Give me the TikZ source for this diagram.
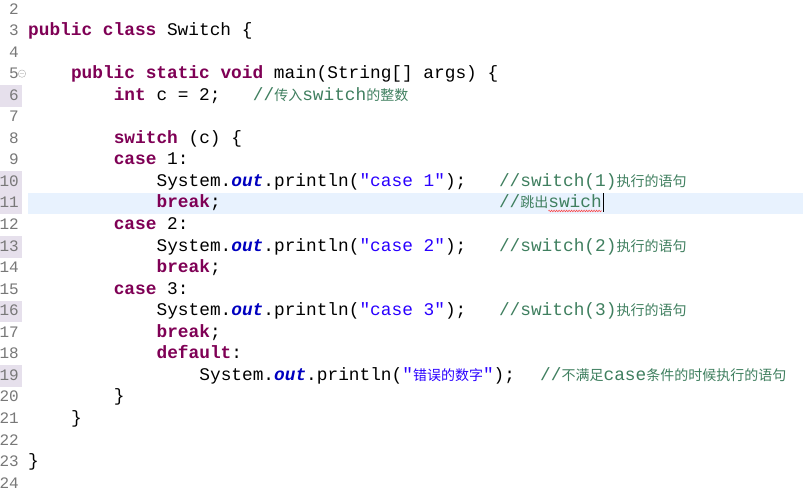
\documentclass[tikz,border=0pt]{standalone}
\usepackage{fontspec}
\usetikzlibrary{decorations.pathmorphing}
\setmonofont{Liberation Mono}
\newfontfamily\cjk{Noto Sans CJK SC}
\definecolor{kw}{HTML}{7F0055}
\definecolor{st}{HTML}{2A00FF}
\definecolor{cm}{HTML}{3F7F5F}
\definecolor{fd}{HTML}{0000C0}
\definecolor{lnc}{HTML}{787878}
\definecolor{chg}{HTML}{E6E0EC}
\definecolor{hl}{HTML}{E8F2FE}
\newcommand{\K}[1]{\textcolor{kw}{\bfseries #1}}
\newcommand{\Str}[1]{\textcolor{st}{#1}}
\newcommand{\F}[1]{\textcolor{fd}{\bfseries\itshape #1}}
\newcommand{\C}[1]{{\cjk\fontsize{14}{14}\selectfont #1}}
\newcommand{\yb}[1]{\fpeval{14+(#1-2)*21.55}}
\begin{document}
\begin{tikzpicture}[x=1pt,y=-1pt,
  code/.style={anchor=base west,inner sep=0pt,font=\ttfamily\fontsize{17.8}{20}\selectfont},
  com/.style={code,text=cm},
  lnum/.style={anchor=base east,inner sep=0pt,text=lnc,font=\ttfamily\fontsize{16}{18}\selectfont}]
\useasboundingbox (0,0) rectangle (803,490);
\fill[white] (0,0) rectangle (803,490);
% changed-line markers
\foreach \k in {6,10,11,13,16,19}{\fill[chg] (0,{\yb{\k}-15}) rectangle (22,{\yb{\k}+6.5});}
% current line highlight
\fill[hl] (28,{\yb{11}-15}) rectangle (803,{\yb{11}+6.5});
% line numbers
\foreach \k in {2,...,24}{\node[lnum] (n\k) at (19,{\yb{\k}}) {\k};}
% fold marker
\node[circle,draw=lnc!60,inner sep=0pt,minimum size=6pt,font=\fontsize{6}{6}\selectfont,text=lnc] (fold) at (22,{\yb{5}-5}) {$-$};
\newcommand{\cx}[1]{\fpeval{28+#1*10.7}}
\node[code] (l3) at ({\cx{0}},{\yb{3}}) {\K{public} \K{class} Switch \{};
\node[code] (l5) at ({\cx{4}},{\yb{5}}) {\K{public} \K{static} \K{void} main(String[] args) \{};
\node[code] (l6) at ({\cx{8}},{\yb{6}}) {\K{int} c = 2;};
\node[com] (c6) at ({\cx{21}},{\yb{6}}) {//\C{传入}switch\C{的整数}};
\node[code] (l8) at ({\cx{8}},{\yb{8}}) {\K{switch} (c) \{};
\node[code] (l9) at ({\cx{8}},{\yb{9}}) {\K{case} 1:};
\node[code] (l10) at ({\cx{12}},{\yb{10}}) {System.\F{out}.println(\Str{"case 1"});};
\node[com] (c10) at ({\cx{44}},{\yb{10}}) {//switch(1)\C{执行的语句}};
\node[code] (l11) at ({\cx{12}},{\yb{11}}) {\K{break};};
\node[com] (c11) at ({\cx{44}},{\yb{11}}) {//\C{跳出}swich};
\draw[red!80,line width=0.5pt,decorate,decoration={zigzag,segment length=2.5pt,amplitude=0.8pt}] (c11.base east) ++(-53.5,3) -- ++(53.5,0);
\draw[black,line width=0.8pt] (c11.base east) ++(1,4) -- ++(0,-19);
\node[code] (l12) at ({\cx{8}},{\yb{12}}) {\K{case} 2:};
\node[code] (l13) at ({\cx{12}},{\yb{13}}) {System.\F{out}.println(\Str{"case 2"});};
\node[com] (c13) at ({\cx{44}},{\yb{13}}) {//switch(2)\C{执行的语句}};
\node[code] (l14) at ({\cx{12}},{\yb{14}}) {\K{break};};
\node[code] (l15) at ({\cx{8}},{\yb{15}}) {\K{case} 3:};
\node[code] (l16) at ({\cx{12}},{\yb{16}}) {System.\F{out}.println(\Str{"case 3"});};
\node[com] (c16) at ({\cx{44}},{\yb{16}}) {//switch(3)\C{执行的语句}};
\node[code] (l17) at ({\cx{12}},{\yb{17}}) {\K{break};};
\node[code] (l18) at ({\cx{12}},{\yb{18}}) {\K{default}:};
\node[code] (l19) at ({\cx{16}},{\yb{19}}) {System.\F{out}.println(\Str{"\C{错误的数字}"});};
\node[com] (c19) at (540,{\yb{19}}) {//\C{不满足}case\C{条件的时候执行的语句}};
\node[code] (l20) at ({\cx{8}},{\yb{20}}) {\}};
\node[code] (l21) at ({\cx{4}},{\yb{21}}) {\}};
\node[code] (l23) at ({\cx{0}},{\yb{23}}) {\}};
\end{tikzpicture}
\end{document}
